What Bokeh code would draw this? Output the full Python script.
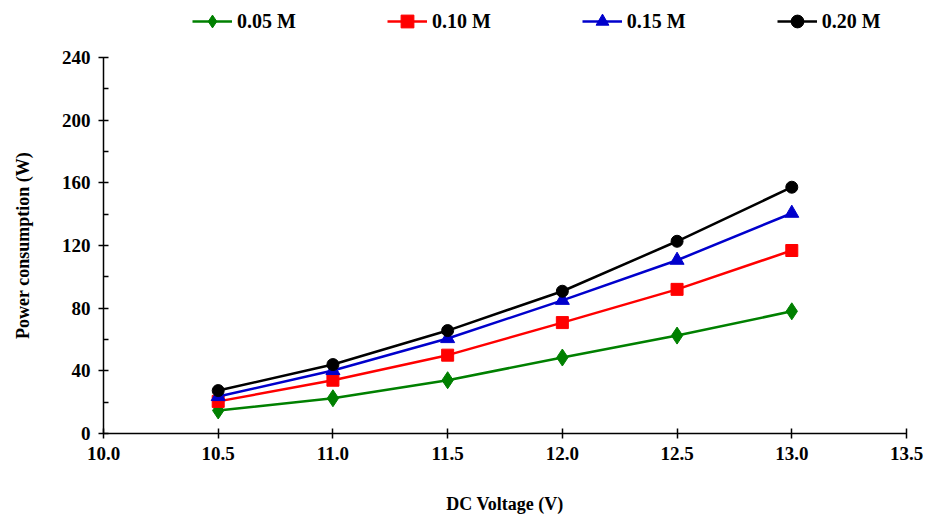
from bokeh.plotting import figure
from bokeh.layouts import column
from bokeh.models import Legend, LegendItem, Range1d, FixedTicker, NumeralTickFormatter
from bokeh.embed import file_html
from bokeh.resources import INLINE

voltage = [10.5, 11.0, 11.5, 12.0, 12.5, 13.0]
p005 = [14.7, 22.5, 34.0, 48.5, 62.5, 78.0]
p010 = [20.5, 34.0, 50.0, 70.8, 92.0, 116.8]
p015 = [23.6, 40.2, 60.6, 85.0, 110.6, 140.6]
p020 = [27.4, 44.0, 65.7, 90.8, 122.7, 157.2]
labels = ["0.05 M", "0.10 M", "0.15 M", "0.20 M"]
colors = ["#008000", "#ff0000", "#0000cc", "#000000"]
markers = ["diamond", "square", "triangle", "circle"]
sizes = [17, 12, 14, 12]
x_ticks = [10.0, 10.5, 11.0, 11.5, 12.0, 12.5, 13.0, 13.5]
y_ticks = [0, 40, 80, 120, 160, 200, 240]
y_minor = [20, 60, 100, 140, 180, 220]
series = [p005, p010, p015, p020]

FONT = "Liberation Serif"
W = 926

# ---- main chart ----
p = figure(width=W, height=472, output_backend="svg", toolbar_location=None,
           x_range=Range1d(10.0, 13.5), y_range=Range1d(0, 240),
           min_border_left=103, min_border_top=12, min_border_right=20, min_border_bottom=84)
p.outline_line_color = None
p.xgrid.visible = False
p.ygrid.visible = False

for ys, c, m, s in zip(series, colors, markers, sizes):
    p.line(voltage, ys, color=c, line_width=2.5)
    p.scatter(voltage, ys, marker=m, size=s, color=c)

for ax in (p.xaxis[0], p.yaxis[0]):
    ax.axis_line_color = "black"
    ax.axis_line_width = 1.5
    ax.major_tick_line_width = 1.5
    ax.minor_tick_line_width = 1.5
    ax.major_label_text_font = FONT
    ax.major_label_text_font_style = "bold"
    ax.major_label_text_font_size = "19px"
    ax.major_label_text_color = "black"
    ax.axis_label_text_font = FONT
    ax.axis_label_text_font_style = "bold"
    ax.axis_label_text_font_size = "18px"
    ax.axis_label_text_color = "black"
    ax.major_tick_in = 5
    ax.major_tick_out = 5

p.xaxis.ticker = FixedTicker(ticks=x_ticks)
p.xaxis.minor_tick_line_color = None
p.xaxis.formatter = NumeralTickFormatter(format="0.0")
p.xaxis.axis_label = "DC Voltage (V)"
p.xaxis.major_label_standoff = 8
p.xaxis.axis_label_standoff = 31

p.yaxis.ticker = FixedTicker(ticks=y_ticks, minor_ticks=y_minor)
p.yaxis.minor_tick_in = 5
p.yaxis.minor_tick_out = 0
p.yaxis.axis_label = "Power consumption (W)"
p.yaxis.major_label_standoff = 8
p.yaxis.axis_label_standoff = 26

# ---- legend strip: same series drawn off-view, legend inside its frame ----
lg = figure(width=W, height=45, output_backend="svg", toolbar_location=None,
            x_range=Range1d(0, 1), y_range=Range1d(0, 1),
            min_border_left=0, min_border_right=0,
            min_border_top=0, min_border_bottom=0)
lg.outline_line_color = None
lg.axis.visible = False
lg.grid.visible = False
items = []
for lab, ys, c, m in zip(labels, series, colors, markers):
    rl = lg.line(voltage, ys, color=c, line_width=2.5)
    rm = lg.scatter(voltage, ys, marker=m, color=c)
    items.append(LegendItem(label=lab, renderers=[rl, rm]))
legend = Legend(items=items, orientation="horizontal", location=(89, 8),
                glyph_width=40, glyph_height=32, label_height=32,
                label_standoff=5, spacing=91, padding=0, margin=0,
                border_line_color=None, background_fill_alpha=0,
                label_text_font=FONT, label_text_font_style="bold",
                label_text_font_size="20px", label_text_color="black")
lg.add_layout(legend, "center")

layout = column(lg, p, spacing=0)
open("out.html", "w").write(file_html(layout, INLINE))
